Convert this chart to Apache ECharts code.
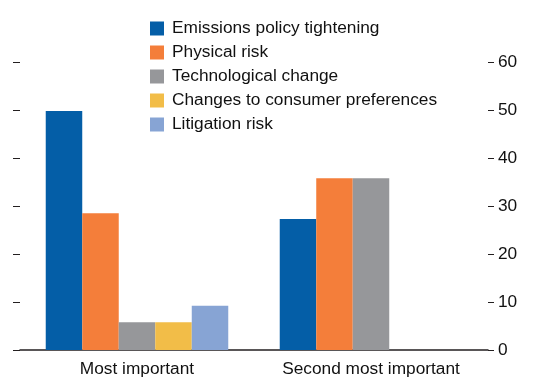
<!DOCTYPE html>
<html>
<head>
<meta charset="utf-8">
<script src="https://cdn.jsdelivr.net/npm/echarts@6/dist/echarts.min.js"></script>
<style>
html,body{margin:0;padding:0;background:#fff;}
#c{width:536px;height:381px;}
</style>
</head>
<body>
<div id="c"></div>
<script>
const categories = ['Most important', 'Second most important'];
const seriesNames = ['Emissions policy tightening', 'Physical risk', 'Technological change', 'Changes to consumer preferences', 'Litigation risk'];
const emissions = [49.8, 27.3];
const physical = [28.5, 35.8];
const technological = [5.8, 35.8];
const consumer = [5.8, 0];
const litigation = [9.2, 0];
const yTicks = [0, 10, 20, 30, 40, 50, 60];

const colors = ['#045EA7', '#F47E3A', '#96979A', '#F2BD48', '#87A4D4'];
const values = [emissions, physical, technological, consumer, litigation];
const FONT = '"Liberation Sans", Arial, Helvetica, sans-serif';
const FS = 17.3;

const chart = echarts.init(document.getElementById('c'), null, {renderer: 'canvas'});
chart.setOption({
  animation: false,
  textStyle: {fontFamily: FONT},
  grid: {left: 20, right: 48, top: 62, bottom: 31, containLabel: false},
  legend: {
    orient: 'vertical', left: 145, top: 15,
    itemWidth: 14, itemHeight: 14, itemGap: 7,
    icon: 'rect',
    textStyle: {fontFamily: FONT, fontSize: FS, lineHeight: 14, color: '#111111', padding: [0, 0, 0, 3]},
    data: seriesNames
  },
  xAxis: {
    type: 'category', data: categories,
    axisLine: {lineStyle: {color: '#231F20', width: 1.5}},
    axisTick: {inside: true, length: 7, lineStyle: {color: '#231F20'}},
    axisLabel: {fontFamily: FONT, fontSize: FS, color: '#111111', margin: 11, interval: 0}
  },
  yAxis: [{
    type: 'value', position: 'left', min: yTicks[0], max: yTicks[yTicks.length - 1], interval: 10,
    axisLine: {show: false},
    axisTick: {show: true, length: 7, lineStyle: {color: '#231F20'}},
    axisLabel: {show: false},
    splitLine: {show: false}
  }, {
    type: 'value', position: 'right', min: yTicks[0], max: yTicks[yTicks.length - 1], interval: 10,
    axisLine: {show: false},
    axisTick: {show: true, length: 6, lineStyle: {color: '#231F20'}},
    axisLabel: {fontFamily: FONT, fontSize: FS, color: '#111111', margin: 10},
    splitLine: {show: false}
  }],
  series: seriesNames.map((n, i) => ({
    name: n, type: 'bar', data: values[i],
    itemStyle: {color: colors[i]},
    barGap: '0%', barCategoryGap: '22%'
  }))
});
</script>
</body>
</html>
